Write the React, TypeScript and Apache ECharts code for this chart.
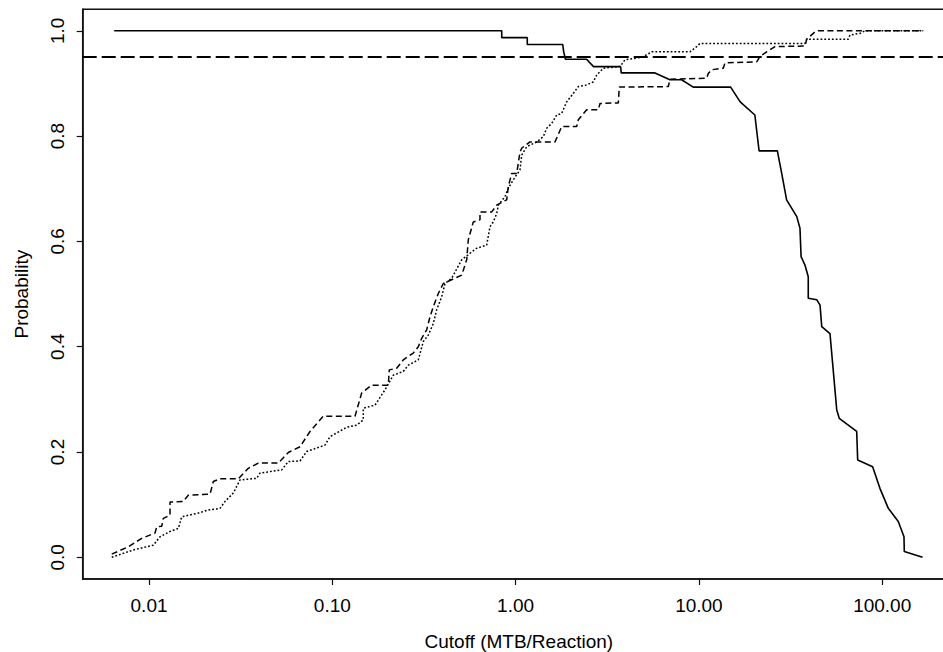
import React, { useEffect, useRef } from "react";
import * as echarts from "echarts";

// ---- Data ----
// Solid curve (decreasing)
const solidX = [0.00646, 0.84, 0.84, 1.158, 1.158, 1.807, 1.83, 1.87, 2.44, 2.66, 3.74, 3.77, 5.76, 6.95, 8.05, 9.31, 14.9, 16.8, 20.2, 21.3, 26.8, 28.3, 30.1, 34.2, 35.6, 36.1, 37.9, 39.5, 39.5, 44.0, 45.8, 46.8, 51.9, 56.5, 58.3, 72.6, 73.5, 88.7, 97.2, 108, 122.4, 131.5, 132, 166];
const solidY = [1.0, 1.0, 0.987, 0.987, 0.974, 0.974, 0.96, 0.946, 0.946, 0.932, 0.932, 0.92, 0.92, 0.907, 0.907, 0.893, 0.893, 0.865, 0.84, 0.772, 0.772, 0.729, 0.679, 0.647, 0.625, 0.571, 0.555, 0.533, 0.492, 0.489, 0.479, 0.438, 0.425, 0.28, 0.264, 0.239, 0.185, 0.172, 0.131, 0.093, 0.068, 0.039, 0.011, 0.0];

// Dashed curve (increasing)
const dashedX = [0.00626, 0.00771, 0.00912, 0.01078, 0.01102, 0.01173, 0.01197, 0.01302, 0.01302, 0.01538,
  0.01638, 0.02152, 0.02243, 0.0244, 0.0307, 0.0348, 0.03947, 0.05074, 0.05754, 0.06664,
  0.07553, 0.08931, 0.133, 0.1446, 0.164, 0.202, 0.2046, 0.2245, 0.244, 0.2766,
  0.2945, 0.3075, 0.3273, 0.3412, 0.3556, 0.3787, 0.4033, 0.5081, 0.5409, 0.552,
  0.5877, 0.6393, 0.6393, 0.7409, 0.7889, 0.894, 0.9124, 0.9521, 1.014, 1.057,
  1.08, 1.198, 1.641, 1.784, 2.154, 2.198, 2.443, 2.827, 2.887, 3.634,
  3.679, 6.81, 6.96, 11.03, 11.25, 11.75, 13.59, 13.88, 20.67, 21.54,
  23.44, 26.02, 37.92, 38.74, 42.99, 44.82, 167.6];
const dashedY = [0.006, 0.02, 0.036, 0.046, 0.058, 0.059, 0.074, 0.08, 0.105, 0.106,
  0.118, 0.12, 0.144, 0.149, 0.149, 0.169, 0.179, 0.179, 0.199, 0.21,
  0.239, 0.268, 0.268, 0.312, 0.327, 0.327, 0.356, 0.359, 0.375, 0.388,
  0.4, 0.416, 0.432, 0.457, 0.476, 0.501, 0.52, 0.536, 0.565, 0.603,
  0.637, 0.641, 0.656, 0.656, 0.669, 0.679, 0.704, 0.729, 0.729, 0.77,
  0.777, 0.789, 0.789, 0.818, 0.818, 0.831, 0.85, 0.85, 0.862, 0.863,
  0.893, 0.894, 0.908, 0.91, 0.919, 0.926, 0.929, 0.939, 0.941, 0.951,
  0.96, 0.97, 0.971, 0.984, 0.998, 1.0, 1.0];

// Dotted curve (increasing)
const dottedX = [0.00626, 0.00821, 0.01055, 0.01148, 0.01302, 0.01445, 0.01508, 0.01858, 0.02106, 0.0244,
  0.02598, 0.02884, 0.03136, 0.0387, 0.04033, 0.05297, 0.05754, 0.06664, 0.07248, 0.09124,
  0.09714, 0.1198, 0.1358, 0.1476, 0.1476, 0.171, 0.1938, 0.2152, 0.244, 0.2599,
  0.2945, 0.3137, 0.334, 0.3556, 0.3711, 0.3952, 0.412, 0.448, 0.5081, 0.5761,
  0.6134, 0.6955, 0.7249, 0.7556, 0.7889, 0.805, 0.8753, 0.9124, 0.9715, 1.057,
  1.08, 1.15, 1.304, 1.416, 1.478, 1.574, 1.676, 1.784, 1.9, 2.064,
  2.198, 2.443, 2.654, 2.77, 3.009, 3.713, 3.953, 4.578, 4.974, 5.527,
  8.944, 9.728, 10.14, 37.92, 38.74, 65.33, 66.73, 75.66, 80.56, 167.6];
const dottedY = [0, 0.014, 0.023, 0.039, 0.049, 0.055, 0.077, 0.084, 0.09, 0.093,
  0.106, 0.122, 0.147, 0.15, 0.16, 0.166, 0.182, 0.183, 0.201, 0.213,
  0.229, 0.247, 0.251, 0.261, 0.283, 0.289, 0.318, 0.346, 0.353, 0.365,
  0.375, 0.41, 0.422, 0.444, 0.47, 0.495, 0.52, 0.53, 0.565, 0.58,
  0.587, 0.593, 0.628, 0.637, 0.653, 0.669, 0.685, 0.701, 0.717, 0.736,
  0.764, 0.78, 0.789, 0.799, 0.815, 0.824, 0.84, 0.843, 0.865, 0.881,
  0.894, 0.897, 0.903, 0.916, 0.929, 0.932, 0.945, 0.948, 0.951, 0.96,
  0.96, 0.97, 0.976, 0.976, 0.984, 0.984, 0.992, 0.995, 1.0, 1.0];

const referenceLevel = 0.95;
const xTicks = [0.01, 0.1, 1, 10, 100];
const yTicks = [0, 0.2, 0.4, 0.6, 0.8, 1.0];
const xTitle = "Cutoff (MTB/Reaction)";
const yTitle = "Probability";

// ---- Axis limits / layout ----
const X_MIN = 0.004347;
const X_MAX = 249.6;
const Y_MIN = -0.0412;
const Y_MAX = 1.0408;

const FONT = "'Liberation Sans', Arial, Helvetica, sans-serif";
const INK = "#111";

const zip = (xs: number[], ys: number[]) => xs.map((x, i) => [x, ys[i]]);

export default function App() {
  const ref = useRef<HTMLDivElement>(null);

  useEffect(() => {
    if (!ref.current) return;
    const chart = echarts.init(ref.current, undefined, { renderer: "svg" });
    const option: any = {
      animation: false,
      backgroundColor: "#ffffff",
      textStyle: { fontFamily: FONT },
      grid: {
        left: 82.7,
        top: 9.3,
        width: 872.3,
        height: 569.7,
        show: true,
        borderColor: INK,
        borderWidth: 1.5,
        backgroundColor: "transparent",
        containLabel: false,
        outerBoundsMode: "none",
      },
      xAxis: {
        type: "log",
        logBase: 10,
        min: X_MIN,
        max: X_MAX,
        name: xTitle,
        nameLocation: "middle",
        nameGap: 53,
        nameTextStyle: { fontSize: 19, color: "#000", fontFamily: FONT },
        axisLine: { show: true, onZero: false, lineStyle: { color: INK, width: 1.5 } },
        axisTick: {
          show: true,
          length: 6,
          lineStyle: { color: INK, width: 1.2 },
          customValues: xTicks,
        },
        axisLabel: {
          customValues: xTicks,
          formatter: (v: number) => Number(v).toFixed(2),
          fontSize: 19,
          color: "#000",
          fontFamily: FONT,
          margin: 17,
        },
        splitLine: { show: false },
        minorTick: { show: false },
        minorSplitLine: { show: false },
      },
      yAxis: {
        type: "value",
        min: Y_MIN,
        max: Y_MAX,
        name: yTitle,
        nameLocation: "middle",
        nameRotate: 90,
        nameGap: 52,
        nameTextStyle: { fontSize: 19, color: "#000", fontFamily: FONT },
        axisLine: { show: true, onZero: false, lineStyle: { color: INK, width: 1.5 } },
        axisTick: {
          show: true,
          length: 6,
          lineStyle: { color: INK, width: 1.2 },
          customValues: yTicks,
        },
        axisLabel: {
          customValues: yTicks,
          formatter: (v: number) => Number(v).toFixed(1),
          rotate: 90,
          fontSize: 19,
          color: "#000",
          fontFamily: FONT,
          margin: 16,
        },
        splitLine: { show: false },
      },
      series: [
        {
          name: "Solid",
          type: "line",
          data: zip(solidX, solidY),
          showSymbol: false,
          symbol: "none",
          lineStyle: { color: "#000", width: 1.6, type: "solid" },
          z: 3,
        },
        {
          name: "Dashed",
          type: "line",
          data: zip(dashedX, dashedY),
          showSymbol: false,
          symbol: "none",
          lineStyle: { color: "#000", width: 1.5, type: [6, 3.5] },
          z: 3,
          markLine: {
            silent: true,
            symbol: "none",
            label: { show: false },
            lineStyle: { color: "#000", width: 1.8, type: [14, 5] },
            data: [{ yAxis: referenceLevel }],
          },
        },
        {
          name: "Dotted",
          type: "line",
          data: zip(dottedX, dottedY),
          showSymbol: false,
          symbol: "none",
          lineStyle: { color: "#000", width: 1.5, type: [1.8, 2] },
          z: 3,
        },
      ],
    };
    chart.setOption(option);
    return () => {
      chart.dispose();
    };
  }, []);

  return (
    <div
      ref={ref}
      style={{ position: "fixed", left: 0, top: 0, width: 943, height: 652, background: "#fff" }}
    />
  );
}
